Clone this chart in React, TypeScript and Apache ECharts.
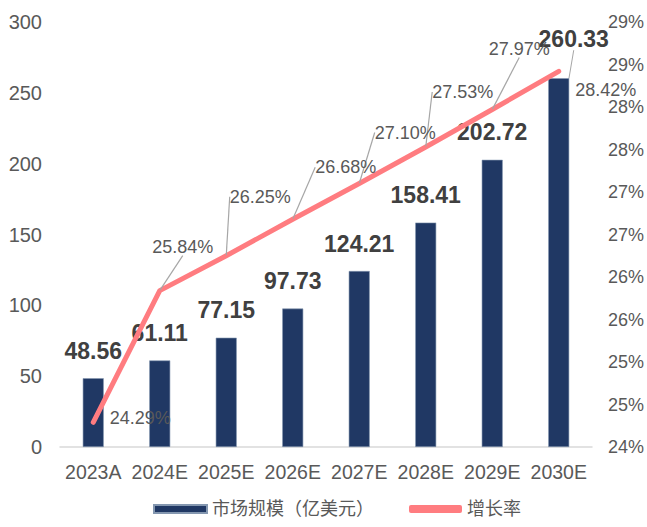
import React, { useEffect, useRef } from "react";
import * as echarts from "echarts";

const categories = ["2023A", "2024E", "2025E", "2026E", "2027E", "2028E", "2029E", "2030E"];
const marketSize = [48.56, 61.11, 77.15, 97.73, 124.21, 158.41, 202.72, 260.33];
const growthRate = [24.29, 25.84, 26.25, 26.68, 27.1, 27.53, 27.97, 28.42];
const barName = "市场规模（亿美元）";
const lineName = "增长率";

// label placement (styling only)
const lineLabelShift = [
  [47, -4], [23, -44], [34, -59], [53, -52], [46, -51], [37, -55], [27, -61], [47, 19],
];
const lineLeader = [false, true, true, true, true, true, true, false];

const FONT = "'Liberation Sans', 'Noto Sans CJK SC', sans-serif";
const GRAY = "#595959";

export default function App() {
  const ref = useRef<HTMLDivElement>(null);
  useEffect(() => {
    if (!ref.current) return;
    const chart = echarts.init(ref.current, null, { renderer: "svg" });
    const last = marketSize.length - 1;
    chart.setOption({
      animation: false,
      textStyle: { fontFamily: FONT },
      grid: { left: 60, right: 50, top: 22, bottom: 80, containLabel: false },
      legend: {
        left: 148,
        bottom: 4,
        itemGap: 35,
        itemWidth: 53,
        itemHeight: 8,
        textStyle: { fontSize: 18, color: GRAY, fontFamily: FONT },
        data: [
          { name: barName, icon: "rect" },
          { name: lineName, icon: "roundRect" },
        ],
      },
      xAxis: {
        type: "category",
        data: categories,
        axisLine: { lineStyle: { color: "#D9D9D9", width: 1.5 } },
        axisTick: { show: false },
        axisLabel: { color: GRAY, fontSize: 19.5, margin: 15, interval: 0 },
      },
      yAxis: [
        {
          type: "value",
          min: 0,
          max: 300,
          interval: 50,
          splitLine: { show: false },
          axisLine: { show: false },
          axisTick: { show: false },
          axisLabel: { color: GRAY, fontSize: 20, margin: 18 },
        },
        {
          type: "value",
          min: 24,
          max: 29,
          interval: 0.5,
          position: "right",
          splitLine: { show: false },
          axisLine: { show: false },
          axisTick: { show: false },
          axisLabel: {
            color: GRAY,
            fontSize: 18,
            margin: 16,
            formatter: (v: number) => Math.round(v + 1e-9) + "%",
          },
        },
      ],
      series: [
        {
          name: barName,
          type: "bar",
          barWidth: 21,
          itemStyle: { color: "#203864", borderColor: "#8497B0", borderWidth: 0.6 },
          data: marketSize.map((v, i) => ({
            value: v,
            labelLine: { show: i === last, lineStyle: { color: "#A6A6A6", width: 1 } },
          })),
          label: {
            show: true,
            position: "top",
            distance: 16,
            fontSize: 23,
            fontWeight: "bold",
            color: "#404040",
            formatter: (p: any) => p.value.toFixed(2),
          },
          labelLayout: (p: any) => (p.dataIndex === last ? { dx: 15, dy: -12 } : {}),
          z: 2,
        },
        {
          name: lineName,
          type: "line",
          yAxisIndex: 1,
          symbol: "circle",
          symbolSize: 1,
          showSymbol: true,
          itemStyle: { color: "#FF7C80" },
          lineStyle: { color: "#FF7C80", width: 5, cap: "round", join: "round" },
          data: growthRate.map((v, i) => ({
            value: v,
            labelLine: { show: lineLeader[i], lineStyle: { color: "#A6A6A6", width: 1.2 } },
          })),
          label: {
            show: true,
            position: "inside",
            fontSize: 18,
            color: GRAY,
            formatter: (p: any) => Number(p.value).toFixed(2) + "%",
          },
          labelLayout: (p: any) => ({
            dx: lineLabelShift[p.dataIndex][0],
            dy: lineLabelShift[p.dataIndex][1],
          }),
          z: 3,
        },
      ],
    });
    return () => chart.dispose();
  }, []);
  return (
    <div
      ref={ref}
      style={{ position: "fixed", left: 0, top: 0, width: 647, height: 527, background: "#fff" }}
    />
  );
}
